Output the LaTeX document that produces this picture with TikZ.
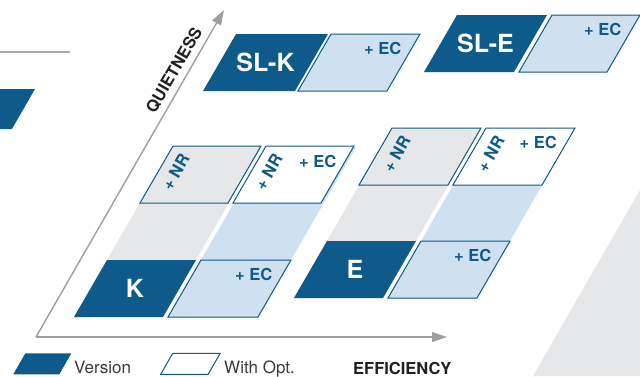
\documentclass[tikz,border=0pt]{standalone}
\usepackage{fontspec}
\setmainfont{TeX Gyre Heros}
\usetikzlibrary{arrows.meta}
\begin{document}
\begin{tikzpicture}[x=1pt, y=-1pt,
  version/.style={fill=verblue},
  withopt/.style={fill=optblue, draw=verblue, line width=1pt},
  noopt/.style={fill=white, draw=verblue, line width=1pt},
  noise/.style={fill=greyfill, draw=verblue, line width=1pt},
  vlabel/.style={text=white, inner sep=0pt, font=\bfseries\fontsize{25}{25}\selectfont},
  eclabel/.style={text=verblue, inner sep=0pt, anchor=base east, font=\bfseries\fontsize{16.5}{16.5}\selectfont},
  nrlabel/.style={text=verblue, inner sep=0pt, rotate=60, font=\bfseries\fontsize{16.5}{16.5}\selectfont},
  axis/.style={draw=axisgrey, line width=1.4pt, -{Triangle[length=15pt, width=10pt]}},
  axlabel/.style={text=inkblack, inner sep=0pt, font=\bfseries\fontsize{16.5}{16.5}\selectfont},
  legtext/.style={text=inkgrey, inner sep=0pt, anchor=base west, font=\fontsize{17}{17}\selectfont}]
\definecolor{verblue}{HTML}{0E5A8A}
\definecolor{optblue}{HTML}{CFE0F1}
\definecolor{greyfill}{HTML}{E6E7E8}
\definecolor{axisgrey}{HTML}{9D9FA2}
\definecolor{linegrey}{HTML}{A7A9AC}
\definecolor{inkblack}{HTML}{231F20}
\definecolor{inkgrey}{HTML}{3A3A3C}
\path[use as bounding box, clip] (0,0) rectangle (640,376);
% background bits
\fill[greyfill] (640,190) -- (533,376) -- (640,376) -- cycle;
\draw[linegrey, line width=1.3pt] (0,52) -- (70,52);
\fill[verblue] (-60,129) -- (12,129) -- (35,89) -- (-37,89) -- cycle;
% axes
\coordinate (o) at (36,337);
\coordinate (xtip) at (447,337);
\coordinate (ytip) at (224,10);
\draw[axis] (o) -- (xtip);
\draw[axis] (o) -- (ytip);
\node[axlabel, rotate=60] (quiet) at (174,70) {QUIETNESS};
\node[axlabel, anchor=base west] (effic) at (353,374.5) {EFFICIENCY};
% top row
\fill[version] (203,91) -- ++(92,0) -- ++(33,-57) -- ++(-92,0) -- cycle;
\node[vlabel] (slk) at (265.5,62.5) {SL-K};
\path[withopt] (298,91) -- ++(89,0) -- ++(33,-57) -- ++(-89,0) -- cycle;
\node[eclabel] (slkec) at (401.5,54) {+ EC};
\fill[version] (424,72) -- ++(90,0) -- ++(33,-57) -- ++(-90,0) -- cycle;
\node[vlabel] (sle) at (485.5,43.5) {SL-E};
\path[withopt] (519,72) -- ++(88,0) -- ++(33,-57) -- ++(-88,0) -- cycle;
\node[eclabel] (sleec) at (621.5,35) {+ EC};
% K group
\fill[greyfill] (74,317) -- ++(89,0) -- ++(98.2,-170) -- ++(-89,0) -- cycle;
\fill[optblue] (168,317) -- ++(90,0) -- ++(98.2,-170) -- ++(-90,0) -- cycle;
\fill[version] (74,317) -- ++(89,0) -- ++(33,-57) -- ++(-89,0) -- cycle;
\node[vlabel] (k) at (135,288.5) {K};
\path[withopt] (168,317) -- ++(90,0) -- ++(33,-57) -- ++(-90,0) -- cycle;
\node[eclabel] (kec) at (272.5,280) {+ EC};
\path[noise] (140,203) -- ++(88,0) -- ++(33,-57) -- ++(-88,0) -- cycle;
\node[nrlabel] (knr) at (175.5,172) {+ NR};
\path[noopt] (233,203) -- ++(88,0) -- ++(33,-57) -- ++(-88,0) -- cycle;
\node[nrlabel] (knrb) at (268.5,172) {+ NR};
\node[eclabel] (knrec) at (336.5,167) {+ EC};
% E group
\fill[greyfill] (294,298) -- ++(89,0) -- ++(98.2,-170) -- ++(-89,0) -- cycle;
\fill[optblue] (388,298) -- ++(89,0) -- ++(98.2,-170) -- ++(-89,0) -- cycle;
\fill[version] (294,298) -- ++(89,0) -- ++(33,-57) -- ++(-89,0) -- cycle;
\node[vlabel] (e) at (355,269.5) {E};
\path[withopt] (388,298) -- ++(89,0) -- ++(33,-57) -- ++(-89,0) -- cycle;
\node[eclabel] (eec) at (491.5,261) {+ EC};
\path[noise] (359,185) -- ++(89,0) -- ++(33,-57) -- ++(-89,0) -- cycle;
\node[nrlabel] (enr) at (396.5,154) {+ NR};
\path[noopt] (453,185) -- ++(89,0) -- ++(33,-57) -- ++(-89,0) -- cycle;
\node[nrlabel] (enrb) at (490.5,154) {+ NR};
\node[eclabel] (enrec) at (557,148) {+ EC};
% legend
\fill[version] (13.3,374.3) -- ++(46,0) -- ++(12,-21) -- ++(-46,0) -- cycle;
\node[legtext] (legv) at (74,373.3) {Version};
\path[noopt] (160.7,374.3) -- ++(47.5,0) -- ++(12,-21) -- ++(-47.5,0) -- cycle;
\node[legtext] (lego) at (224,373.3) {With Opt.};
\end{tikzpicture}
\end{document}
